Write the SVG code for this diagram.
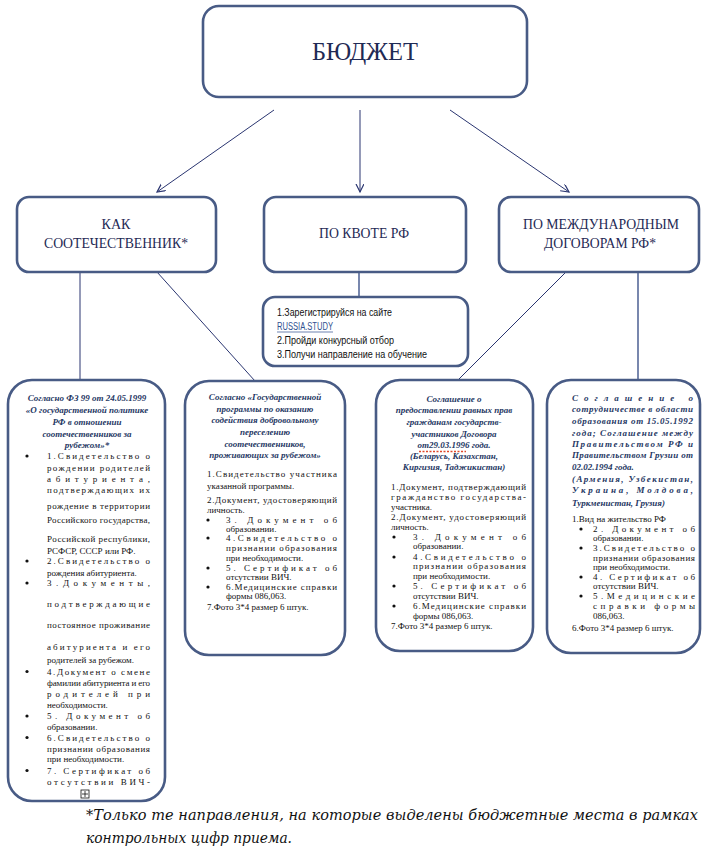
<svg xmlns="http://www.w3.org/2000/svg" width="705" height="851" viewBox="0 0 705 851">
<style>
.box{fill:#fff;stroke:#485b85;stroke-width:2.6}
.t1{font-family:"Liberation Serif","Times New Roman",serif;fill:#1f2a55;text-anchor:middle}
.h{font-family:"Liberation Serif",serif;font-weight:bold;font-style:italic;font-size:9px;fill:#1f3864}
.hc{text-anchor:middle}
.b{font-family:"Liberation Serif",serif;font-size:9px;fill:#111}
.l{font-family:"Liberation Sans",sans-serif;font-size:10px;fill:#111}
.link{fill:#2f4f8f}
.c{stroke:#2a3570;stroke-width:1;fill:none}
.c2{stroke:#6a7aa5;stroke-width:1.8;fill:none}
.f{font-family:"DejaVu Serif",serif;font-style:italic;font-size:14.5px;fill:#111}
</style>
<defs>
<marker id="ah" markerWidth="10" markerHeight="10" refX="8" refY="4" orient="auto" markerUnits="userSpaceOnUse">
<path d="M0,0 L8,4 L0,8" fill="none" stroke="#2a3570" stroke-width="1.2"/>
</marker>
<circle id="dot" r="1.6" fill="#111"/>
</defs>
<rect width="705" height="851" fill="#fff"/>

<g id="connectors">
<line class="c" x1="274" y1="110" x2="157" y2="192" marker-end="url(#ah)"/>
<line class="c" x1="360" y1="110" x2="360" y2="192" marker-end="url(#ah)"/>
<line class="c" x1="450" y1="110" x2="569" y2="192" marker-end="url(#ah)"/>
<line class="c" x1="80" y1="272" x2="80" y2="380" stroke-width="1.3"/>
<line class="c" x1="157" y1="272" x2="255" y2="381"/>
<line class="c2" x1="359" y1="272" x2="359" y2="297"/>
<line class="c" x1="566" y1="272" x2="458" y2="380"/>
<line class="c2" x1="638" y1="272" x2="638" y2="380"/>
</g>

<g id="budget">
<rect class="box" x="203" y="6" width="324" height="91" rx="16"/>
<text class="t1" x="365" y="60" font-size="26" textLength="106" lengthAdjust="spacingAndGlyphs">БЮДЖЕТ</text>
</g>

<g id="compatriot">
<rect class="box" x="17" y="197" width="199" height="75" rx="12"/>
<text class="t1" x="116" y="229" font-size="15" textLength="29" lengthAdjust="spacingAndGlyphs">КАК</text>
<text class="t1" x="116" y="248" font-size="15" textLength="144" lengthAdjust="spacingAndGlyphs">СООТЕЧЕСТВЕННИК*</text>
</g>

<g id="quota">
<rect class="box" x="264" y="197" width="202" height="75" rx="12"/>
<text class="t1" x="364" y="238" font-size="15" textLength="90" lengthAdjust="spacingAndGlyphs">ПО КВОТЕ РФ</text>
</g>

<g id="intl">
<rect class="box" x="499" y="197" width="200" height="75" rx="12"/>
<text class="t1" x="601" y="229" font-size="15" textLength="156" lengthAdjust="spacingAndGlyphs">ПО МЕЖДУНАРОДНЫМ</text>
<text class="t1" x="600" y="248" font-size="15" textLength="112" lengthAdjust="spacingAndGlyphs">ДОГОВОРАМ РФ*</text>
</g>

<g id="quota-steps">
<rect class="box" x="263" y="297" width="205" height="69" rx="12"/>
<text class="l" x="277" y="316" textLength="115" lengthAdjust="spacingAndGlyphs">1.Зарегистрируйся на сайте</text>
<text class="l link" x="277" y="330" textLength="56" lengthAdjust="spacingAndGlyphs">RUSSIA.STUDY</text>
<line x1="277" y1="332" x2="333" y2="332" stroke="#2f4f8f" stroke-width="0.7"/>
<text class="l" x="277" y="344" textLength="117" lengthAdjust="spacingAndGlyphs">2.Пройди конкурсный отбор</text>
<text class="l" x="277" y="358" textLength="150" lengthAdjust="spacingAndGlyphs">3.Получи направление на обучение</text>
</g>

<g id="compatriot-fz">
<rect class="box" x="8" y="380" width="157" height="421" rx="24"/>
<g class="h hc">
<text x="87" y="401">Согласно ФЗ 99 от 24.05.1999</text>
<text x="87" y="413">«О государственной политике</text>
<text x="87" y="425">РФ в отношении</text>
<text x="87" y="437">соотечественников за</text>
<text x="87" y="448">рубежом»*</text>
</g>
<use href="#dot" x="27" y="456"/><use href="#dot" x="27" y="561"/><use href="#dot" x="27" y="583"/>
<use href="#dot" x="27" y="671.5"/><use href="#dot" x="27" y="716"/><use href="#dot" x="27" y="737.5"/><use href="#dot" x="27" y="770.5"/>
<g class="b">
<text x="47" y="459" textLength="103" lengthAdjust="spacing">1.Свидетельство о</text>
<text x="47" y="470.5" textLength="103" lengthAdjust="spacing">рождении родителей</text>
<text x="47" y="482" textLength="103" lengthAdjust="spacing">абитуриента,</text>
<text x="47" y="493" textLength="103" lengthAdjust="spacing">подтверждающих их</text>
<text x="47" y="509" textLength="103" lengthAdjust="spacing">рождение в территории</text>
<text x="47" y="523" textLength="103" lengthAdjust="spacing">Российского государства,</text>
<text x="47" y="542" textLength="103" lengthAdjust="spacing">Российской республики,</text>
<text x="47" y="553.5">РСФСР, СССР или РФ.</text>
<text x="47" y="564" textLength="103" lengthAdjust="spacing">2.Свидетельство о</text>
<text x="47" y="575.5">рождения абитуриента.</text>
<text x="47" y="586" textLength="103" lengthAdjust="spacing">3.Документы,</text>
<text x="47" y="606.5" textLength="103" lengthAdjust="spacing">подтверждающие</text>
<text x="47" y="628" textLength="103" lengthAdjust="spacing">постоянное проживание</text>
<text x="47" y="650" textLength="103" lengthAdjust="spacing">абитуриента и его</text>
<text x="47" y="662.5">родителей за рубежом.</text>
<text x="47" y="674.5" textLength="103" lengthAdjust="spacing">4.Документ о смене</text>
<text x="47" y="686" textLength="103" lengthAdjust="spacing">фамилии абитуриента и его</text>
<text x="47" y="697" textLength="103" lengthAdjust="spacing">родителей при</text>
<text x="47" y="707.5">необходимости.</text>
<text x="47" y="719" textLength="103" lengthAdjust="spacing">5. Документ об</text>
<text x="47" y="730">образовании.</text>
<text x="47" y="740.5" textLength="103" lengthAdjust="spacing">6.Свидетельство о</text>
<text x="47" y="752" textLength="103" lengthAdjust="spacing">признании образования</text>
<text x="47" y="762">при необходимости.</text>
<text x="47" y="773.5" textLength="103" lengthAdjust="spacing">7. Сертификат об</text>
<text x="47" y="785" textLength="103" lengthAdjust="spacing">отсутствии ВИЧ-</text>
</g>
<rect x="81" y="790" width="8" height="8" fill="none" stroke="#111" stroke-width="0.8"/>
<path d="M85,791 V797 M82,794 H88" stroke="#111" stroke-width="0.8"/>
</g>

<g id="compatriot-program">
<rect class="box" x="185" y="381" width="160" height="274" rx="24"/>
<g class="h hc">
<text x="265" y="400">Согласно «Государственной</text>
<text x="265" y="412">программы по оказанию</text>
<text x="265" y="423">содействия добровольному</text>
<text x="265" y="435">переселению</text>
<text x="265" y="447">соотечественников,</text>
<text x="265" y="458">проживающих за рубежом»</text>
</g>
<use href="#dot" x="208" y="520"/><use href="#dot" x="208" y="538"/><use href="#dot" x="208" y="568"/><use href="#dot" x="208" y="587"/>
<g class="b">
<text x="207" y="477" textLength="130" lengthAdjust="spacing">1.Свидетельство участника</text>
<text x="207" y="489">указанной программы.</text>
<text x="207" y="503" textLength="130" lengthAdjust="spacing">2.Документ, удостоверяющий</text>
<text x="207" y="513">личность.</text>
<text x="226" y="523" textLength="111" lengthAdjust="spacing">3. Документ об</text>
<text x="226" y="532">образовании.</text>
<text x="226" y="541" textLength="111" lengthAdjust="spacing">4.Свидетельство о</text>
<text x="226" y="551" textLength="111" lengthAdjust="spacing">признании образования</text>
<text x="226" y="561">при необходимости.</text>
<text x="226" y="571" textLength="111" lengthAdjust="spacing">5. Сертификат об</text>
<text x="226" y="580">отсутствии ВИЧ.</text>
<text x="226" y="590" textLength="111" lengthAdjust="spacing">6.Медицинские справки</text>
<text x="226" y="599">формы 086,063.</text>
<text x="207" y="610">7.Фото 3*4 размер 6 штук.</text>
</g>
</g>

<g id="agreement-1996">
<rect class="box" x="376" y="380" width="157" height="271" rx="24"/>
<g class="h hc">
<text x="454" y="402">Соглашение о</text>
<text x="454" y="413">предоставлении равных прав</text>
<text x="454" y="425">гражданам государств-</text>
<text x="454" y="437">участников Договора</text>
<text x="454" y="448">от29.03.1996 года.</text>
<text x="454" y="459">(Беларусь, Казахстан,</text>
<text x="454" y="470">Киргизия, Таджикистан)</text>
</g>
<line x1="419" y1="451.5" x2="466" y2="451.5" stroke="#e0482a" stroke-width="1.3" stroke-dasharray="2,1.5"/>
<use href="#dot" x="394" y="537"/><use href="#dot" x="394" y="557"/><use href="#dot" x="394" y="586"/><use href="#dot" x="394" y="606"/>
<g class="b">
<text x="391" y="490" textLength="135" lengthAdjust="spacing">1.Документ, подтверждающий</text>
<text x="391" y="500" textLength="135" lengthAdjust="spacing">гражданство государства-</text>
<text x="391" y="510">участника.</text>
<text x="391" y="520" textLength="135" lengthAdjust="spacing">2.Документ, удостоверяющий</text>
<text x="391" y="530">личность.</text>
<text x="413" y="540" textLength="113" lengthAdjust="spacing">3. Документ об</text>
<text x="413" y="549">образовании.</text>
<text x="413" y="560" textLength="113" lengthAdjust="spacing">4.Свидетельство о</text>
<text x="413" y="569" textLength="113" lengthAdjust="spacing">признании образования</text>
<text x="413" y="579">при необходимости.</text>
<text x="413" y="589" textLength="113" lengthAdjust="spacing">5. Сертификат об</text>
<text x="413" y="599">отсутствии ВИЧ.</text>
<text x="413" y="609" textLength="113" lengthAdjust="spacing">6.Медицинские справки</text>
<text x="413" y="619">формы 086,063.</text>
<text x="391" y="629">7.Фото 3*4 размер 6 штук.</text>
</g>
</g>

<g id="agreement-1992">
<rect class="box" x="547" y="380" width="153" height="273" rx="24"/>
<g class="h">
<text x="572" y="401" textLength="121" lengthAdjust="spacing">Соглашение о</text>
<text x="572" y="412" textLength="121" lengthAdjust="spacing">сотрудничестве в области</text>
<text x="572" y="424" textLength="121" lengthAdjust="spacing">образования от 15.05.1992</text>
<text x="572" y="436" textLength="121" lengthAdjust="spacing">года; Соглашение между</text>
<text x="572" y="447" textLength="121" lengthAdjust="spacing">Правительством РФ и</text>
<text x="572" y="458" textLength="121" lengthAdjust="spacing">Правительством Грузии от</text>
<text x="572" y="470">02.02.1994 года.</text>
<text x="572" y="482" textLength="121" lengthAdjust="spacing">(Армения, Узбекистан,</text>
<text x="572" y="493" textLength="121" lengthAdjust="spacing">Украина, Молдова,</text>
<text x="572" y="506">Туркменистан, Грузия)</text>
</g>
<use href="#dot" x="581" y="529"/><use href="#dot" x="581" y="548"/><use href="#dot" x="581" y="577"/><use href="#dot" x="581" y="596"/>
<g class="b">
<text x="572" y="522">1.Вид на жительство РФ</text>
<text x="593" y="532" textLength="102" lengthAdjust="spacing">2. Документ об</text>
<text x="593" y="541">образовании.</text>
<text x="593" y="551" textLength="102" lengthAdjust="spacing">3.Свидетельство о</text>
<text x="593" y="561" textLength="102" lengthAdjust="spacing">признании образования</text>
<text x="593" y="570">при необходимости.</text>
<text x="593" y="580" textLength="102" lengthAdjust="spacing">4. Сертификат об</text>
<text x="593" y="589">отсутствии ВИЧ.</text>
<text x="593" y="599" textLength="102" lengthAdjust="spacing">5.Медицинские</text>
<text x="593" y="609" textLength="102" lengthAdjust="spacing">справки формы</text>
<text x="593" y="619">086,063.</text>
<text x="572" y="631">6.Фото 3*4 размер 6 штук.</text>
</g>
</g>

<g id="footnote">
<text class="f" x="86" y="820" textLength="612" lengthAdjust="spacing">*Только те направления, на которые выделены бюджетные места в рамках</text>
<text class="f" x="86" y="843" textLength="206" lengthAdjust="spacingAndGlyphs">контрольных цифр приема.</text>
</g>
</svg>
